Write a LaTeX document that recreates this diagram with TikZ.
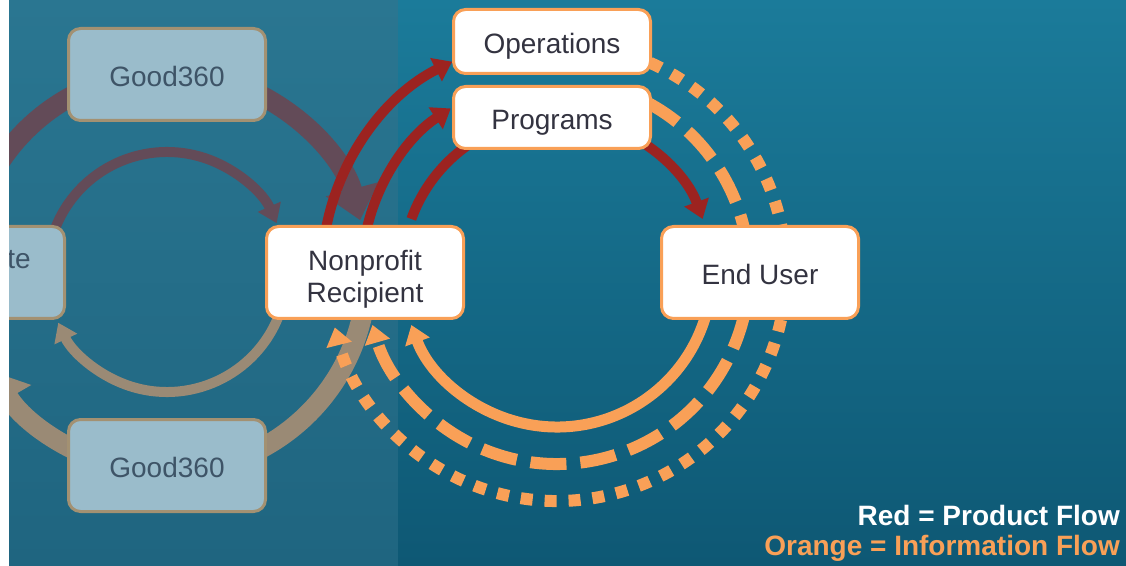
\documentclass[tikz,border=0pt]{standalone}
\usepackage{fontspec}
\setmainfont{Liberation Sans}
\usetikzlibrary{arrows.meta}
\definecolor{bgRt}{HTML}{1B7B9A}
\definecolor{bgRb}{HTML}{0E5874}
\definecolor{bgLt}{HTML}{2A7691}
\definecolor{bgLb}{HTML}{1F6580}
\definecolor{redC}{HTML}{9C2320}
\definecolor{orC}{HTML}{F9A057}
\definecolor{lmar}{HTML}{634B58}
\definecolor{ltan}{HTML}{9A8A75}
\definecolor{lfill}{HTML}{9ABCCB}
\definecolor{lbord}{HTML}{A39172}
\definecolor{ltext}{HTML}{3E5467}
\definecolor{wtext}{HTML}{333340}
\tikzset{
  wbox/.style={draw=orC, line width=3pt, fill=white, rounded corners=12pt,
    minimum width=197pt, inner sep=0pt, align=center, text=wtext,
    text height=24pt, text depth=0pt,
    font=\fontsize{28}{32}\selectfont},
  lbox/.style={draw=lbord, line width=3pt, fill=lfill, rounded corners=12pt,
    minimum width=197pt, minimum height=92pt, inner sep=0pt, align=center, text=ltext,
    text height=24pt, text depth=0pt,
    font=\fontsize{28}{32}\selectfont},
  redarc/.style={draw=redC, line width=10pt, -{Triangle[length=18pt,width=25pt]}},
  orarc/.style={draw=orC, line width=11pt, -{Triangle[length=18pt,width=25pt]}},
  bigmar/.style={draw=lmar, line width=20pt, -{Triangle[length=32pt,width=52pt]}},
  bigtan/.style={draw=ltan, line width=20pt, -{Triangle[length=30pt,width=50pt]}},
  smallmar/.style={draw=lmar, line width=10pt, -{Triangle[length=18pt,width=24pt]}},
  smalltan/.style={draw=ltan, line width=10pt, -{Triangle[length=18pt,width=24pt]}},
  legend/.style={font=\bfseries\fontsize{28}{30}\selectfont, anchor=base east, inner sep=0pt}
}
\begin{document}
\begin{tikzpicture}[x=1pt,y=1pt]
\useasboundingbox (0,0) rectangle (1126,565);
\begin{scope}
\clip (0,0) rectangle (1126,565);
\shade[top color=bgLt, bottom color=bgLb] (9,0) rectangle (398,565);
\shade[top color=bgRt, bottom color=bgRb] (398,0) rectangle (1126,565);

\coordinate (L) at (167,293);
\coordinate (C) at (557,293);

% left (faded) cycle
\draw[bigmar] ([shift={(160:200)}]L) arc[start angle=160, end angle=15, radius=200];
\draw[bigtan] ([shift={(-12:200)}]L) arc[start angle=-12, end angle=-150, radius=200];
\draw[smallmar] ([shift={(160:120)}]L) arc[start angle=160, end angle=24, radius=120];
\draw[smalltan] ([shift={(-20:120)}]L) arc[start angle=-20, end angle=-155, radius=120];

\node[lbox] (good1) at (167,490.5) {Good360};
\node[lbox] (good2) at (167,99.5) {Good360};
\node[lbox] (corp) at (-34,292.5) {};
\node[text=ltext, font=\fontsize{28}{32}\selectfont, anchor=east, inner sep=0pt] (corpt) at (31,305) {te};

% right cycle: product flow (red)
\draw[redarc] ([shift={(160:155)}]C) arc[start angle=160, end angle=20, radius=155];
\draw[redarc] ([shift={(167:195)}]C) arc[start angle=167, end angle=123, radius=195];
\draw[redarc] ([shift={(170:235)}]C) arc[start angle=170, end angle=116.5, radius=235];

% information flow (orange)
\draw[orarc] ([shift={(-12:155)}]C) arc[start angle=-12, end angle=-160, radius=155];
\draw[orarc, line width=12pt, dash pattern=on 36pt off 14pt] ([shift={(62:192)}]C) arc[start angle=62, end angle=-164, radius=192];
\draw[orarc, line width=12pt, dash pattern=on 12pt off 12pt] ([shift={(66:229)}]C) arc[start angle=66, end angle=-166, radius=229];

\node[wbox, minimum height=92pt, text height=0pt, text depth=0pt] (np) at (365,292.5)
  {\raisebox{-14pt}[0pt][0pt]{\begin{tabular}{@{}c@{}}Nonprofit\\Recipient\end{tabular}}};
\node[wbox, minimum height=64pt] (ops) at (552,523.5) {Operations};
\node[wbox, minimum height=62pt] (prog) at (552,447.5) {Programs};
\node[wbox, minimum height=92pt] (eu) at (760,292.5) {End User};

\node[legend, text=white] (leg1) at (1120,40) {Red = Product Flow};
\node[legend, text=orC] (leg2) at (1120,10) {Orange = Information Flow};

\fill[white] (0,0) rectangle (9,565);
\end{scope}
\end{tikzpicture}
\end{document}
